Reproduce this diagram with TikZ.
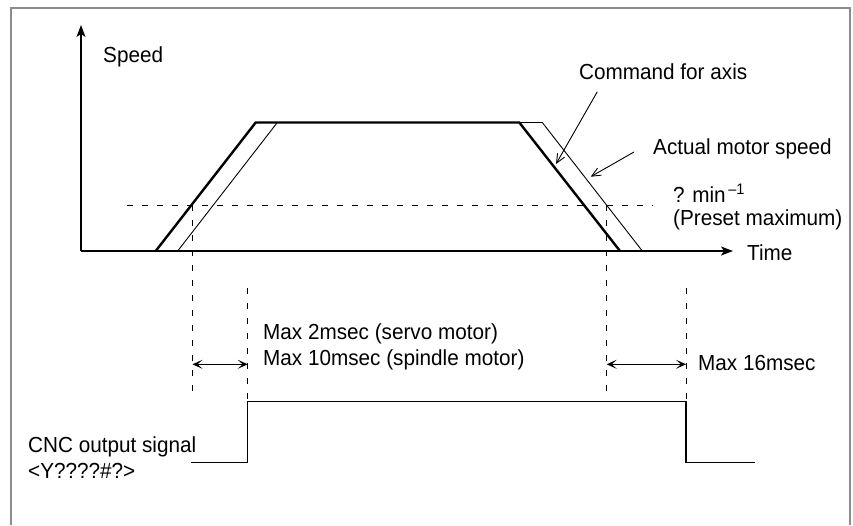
\documentclass[tikz,border=0pt]{standalone}
\usepackage{fontspec}
\setmainfont[FakeStretch=0.95]{Liberation Sans}
\usetikzlibrary{arrows.meta}
\begin{document}
\begin{tikzpicture}[x=1pt,y=-1pt,
  lbl/.style={anchor=base west, inner sep=0pt, font=\fontsize{21.8}{24}\selectfont},
  axisline/.style={line width=1.5pt, -{Stealth[length=12pt,width=9pt,inset=3pt]}},
  cmdline/.style={line width=2.4pt, line join=miter},
  actline/.style={line width=0.9pt},
  guide/.style={line width=1pt, dash pattern=on 6pt off 9pt},
  dimarrow/.style={line width=1.1pt, {Stealth[length=10pt,width=9pt,inset=5pt]}-{Stealth[length=10pt,width=9pt,inset=5pt]}},
  pointer/.style={line width=0.9pt, -{Straight Barb[length=9pt,width=8pt]}},
  sig/.style={line width=1.5pt},
  framestyle/.style={line width=2pt, draw=black!45}]
\useasboundingbox (0,0) rectangle (853,525);
% frame
\draw[framestyle] (11,525) -- (11,8) -- (850,8) -- (850,525);

% coordinates
\coordinate (O) at (81,251);
\coordinate (Ytip) at (81,25);
\coordinate (Xtip) at (733,251);
\coordinate (c0) at (155.7,251);
\coordinate (c1) at (255.7,122.5);
\coordinate (c2) at (519.3,122.5);
\coordinate (c3) at (620,251);
\coordinate (a0) at (177.7,251);
\coordinate (a1) at (277.3,122.5);
\coordinate (a2) at (542.3,122.5);
\coordinate (a3) at (642.3,251);
\coordinate (h0) at (126.7,205);
\coordinate (h1) at (653.3,205);
\coordinate (v1t) at (192.5,205);
\coordinate (v1b) at (192.5,393);
\coordinate (v2t) at (247.7,288);
\coordinate (v3t) at (606.7,205);
\coordinate (v3b) at (606.7,393);
\coordinate (v4t) at (686,288);
\coordinate (s0) at (191,462.3);
\coordinate (s1) at (247.7,462.3);
\coordinate (s2) at (247.7,401.7);
\coordinate (s3) at (686,401.7);
\coordinate (s4) at (686,462.3);
\coordinate (s5) at (755,462.3);
\coordinate (d1) at (192.5,364.3);
\coordinate (d2) at (247.7,364.3);
\coordinate (d3) at (606.7,364.3);
\coordinate (d4) at (686,364.3);
\coordinate (p1s) at (597.3,91.7);
\coordinate (p1e) at (556,164);
\coordinate (p2s) at (634,152);
\coordinate (p2e) at (590.7,176.7);

% axes
\draw[axisline] (O) -- (Ytip);
\draw[axisline] (O) -- (Xtip);

% preset maximum dashed
\draw[guide] (h0) -- (h1);

% curves
\draw[cmdline] (c0) -- (c1) -- (c2) -- (c3);
\draw[actline] (a0) -- (a1) -- (a2) -- (a3);

% vertical guides
\draw[guide] (v1t) -- (v1b);
\draw[guide] (v2t) -- (s2);
\draw[guide] (v3t) -- (v3b);
\draw[guide] (v4t) -- (s3);

% dimension arrows
\draw[dimarrow] (d1) -- (d2);
\draw[dimarrow] (d3) -- (d4);

% signal
\draw[sig] (s0) -- (s1) -- (s2) -- (s3) -- (s4) -- (s5);

% labels
\node[lbl] (speed) at (103,62.7) {Speed};
\node[lbl] (cmd) at (579,79.3) {Command for axis};
\node[lbl] (act) at (653,154.3) {Actual motor speed};
\node[lbl] (rpm) at (673,202) {? min\textsuperscript{\,–1}};
\node[lbl] (preset) at (673,225.5) {(Preset maximum)};
\node[lbl] (time) at (747,260) {Time};
\node[lbl] (servo) at (263,339.3) {Max 2msec (servo motor)};
\node[lbl] (spindle) at (263,365) {Max 10msec (spindle motor)};
\node[lbl] (m16) at (698,370) {Max 16msec};
\node[lbl] (cnc) at (28,452.7) {CNC output signal};
\node[lbl] (ysig) at (28,478) {<Y????\#?>};

% pointers
\draw[pointer] (p1s) -- (p1e);
\draw[pointer] (p2s) -- (p2e);
\end{tikzpicture}
\end{document}
